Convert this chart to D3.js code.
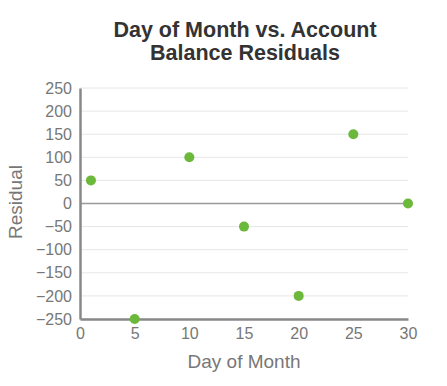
<!DOCTYPE html>
<html>
<head>
<meta charset="utf-8">
<script src="https://cdn.jsdelivr.net/npm/d3@7"></script>
<style>
  body { margin: 0; background: #fff; }
  text { font-family: "Liberation Sans", Arial, sans-serif; }
</style>
</head>
<body>
<div id="chart"></div>
<script>
const days = [1, 5, 10, 15, 20, 25, 30];
const residuals = [50, -250, 100, -50, -200, 150, 0];
const xTicks = [0, 5, 10, 15, 20, 25, 30];
const yTicks = [-250, -200, -150, -100, -50, 0, 50, 100, 150, 200, 250];

const width = 447, height = 386;
const margin = { top: 88, right: 39, bottom: 67, left: 80 };

const svg = d3.select("#chart")
    .append("svg")
    .attr("width", width)
    .attr("height", height);

const x = d3.scaleLinear().domain([0, 30]).range([margin.left, width - margin.right]);
const y = d3.scaleLinear().domain([-250, 250]).range([height - margin.bottom, margin.top]);

// title
svg.append("text")
    .attr("x", 245).attr("y", 37)
    .attr("text-anchor", "middle")
    .attr("font-size", 21.5).attr("font-weight", "bold").attr("fill", "#333")
    .text("Day of Month vs. Account");
svg.append("text")
    .attr("x", 245).attr("y", 60)
    .attr("text-anchor", "middle")
    .attr("font-size", 21.5).attr("font-weight", "bold").attr("fill", "#333")
    .text("Balance Residuals");

// gridlines
svg.append("g")
    .selectAll("line")
    .data(yTicks)
    .enter().append("line")
    .attr("x1", margin.left).attr("x2", width - margin.right)
    .attr("y1", d => y(d)).attr("y2", d => y(d))
    .attr("stroke", d => d === 0 ? "#999" : "#e6e6e6")
    .attr("stroke-width", d => d === 0 ? 1.5 : 1);

// y axis
const yAxis = svg.append("g")
    .attr("transform", `translate(${margin.left},0)`)
    .call(d3.axisLeft(y).tickValues(yTicks).tickSize(0).tickPadding(8));
yAxis.select(".domain").attr("stroke", "#888").attr("stroke-width", 2.5);
yAxis.selectAll("text").attr("font-size", 16).attr("fill", "#777");

// x axis
const xAxis = svg.append("g")
    .attr("transform", `translate(0,${height - margin.bottom})`)
    .call(d3.axisBottom(x).tickValues(xTicks).tickSize(0).tickPadding(9));
xAxis.select(".domain").attr("stroke", "#888").attr("stroke-width", 2.5);
xAxis.selectAll("text").attr("font-size", 16).attr("fill", "#777");

// axis titles
svg.append("text")
    .attr("x", 244).attr("y", 368)
    .attr("text-anchor", "middle")
    .attr("font-size", 19).attr("fill", "#777")
    .text("Day of Month");
svg.append("text")
    .attr("transform", "translate(22,202) rotate(-90)")
    .attr("text-anchor", "middle")
    .attr("font-size", 19).attr("fill", "#777")
    .text("Residual");

// points
svg.append("g")
    .selectAll("circle")
    .data(days.map((d, i) => ({ day: d, r: residuals[i] })))
    .enter().append("circle")
    .attr("cx", d => x(d.day))
    .attr("cy", d => y(d.r))
    .attr("r", 5)
    .attr("fill", "#6cb83a");
</script>
</body>
</html>
